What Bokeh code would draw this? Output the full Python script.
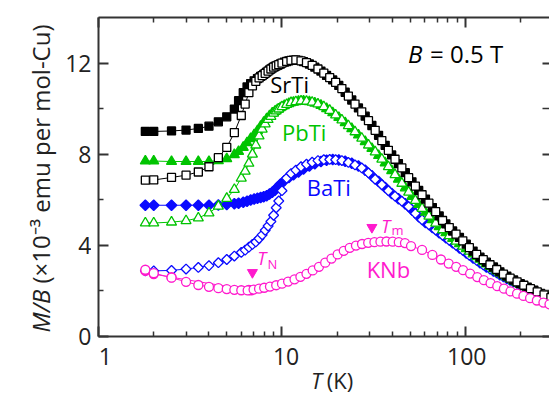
import math
from bokeh.plotting import figure
from bokeh.layouts import column, row
from bokeh.models import LogAxis, LinearAxis, FixedTicker, Label, Range1d
from bokeh.embed import file_html
from bokeh.resources import INLINE

# ---------------- data ----------------
# temperature grid of the open-symbol curves, K
t_open = [1.8, 2.0, 2.5, 3.0, 3.5, 4.0, 4.5, 5.0, 5.5,
          6.0, 6.3, 6.6, 6.9, 7.2, 7.5, 7.8, 8.1, 8.4, 8.7, 9.0, 9.3, 9.6,
          10.0, 10.6, 11.2, 11.9, 12.7, 13.6, 14.6, 15.7, 16.9, 18.2,
          19.6, 21.2, 23.0, 25.0, 27.2, 29.6, 32.2, 35.0, 38.0, 41.3,
          45.0, 49.0, 53.3, 58.0, 63.2, 68.8, 75.0, 81.6, 88.8, 96.7,
          105, 115, 125, 136, 148, 161, 175, 191, 208, 226,
          246, 268, 292]
srti_open = [6.86, 6.87, 6.98, 7.08, 7.22, 7.45, 7.85, 8.30, 8.95,
             9.70, 10.20, 10.70, 11.00, 11.20, 11.35, 11.45, 11.55, 11.65, 11.74, 11.82, 11.88, 11.93,
             12.00, 12.07, 12.12, 12.14, 12.10, 12.02, 11.90, 11.74, 11.56, 11.36,
             11.15, 10.88, 10.55, 10.20, 9.86, 9.47, 9.05, 8.60, 8.17, 7.78,
             7.40, 6.97, 6.60, 6.22, 5.85, 5.48, 5.09, 4.78, 4.49, 4.20,
             3.90, 3.60, 3.37, 3.15, 2.94, 2.74, 2.56, 2.40, 2.25, 2.10,
             1.96, 1.83, 1.71]
pbti_open = [4.98, 4.98, 5.02, 5.08, 5.20, 5.42, 5.72, 6.06, 6.45,
             6.95, 7.25, 7.60, 8.00, 8.40, 8.80, 9.10, 9.33, 9.52, 9.66, 9.80, 9.90, 9.98,
             10.08, 10.18, 10.26, 10.30, 10.33, 10.32, 10.28, 10.20, 10.08, 9.92,
             9.72, 9.50, 9.25, 8.98, 8.70, 8.40, 8.10, 7.78, 7.45, 7.10,
             6.72, 6.33, 5.97, 5.62, 5.28, 4.97, 4.68, 4.42, 4.18, 3.96,
             3.74, 3.50, 3.28, 3.07, 2.88, 2.70, 2.52, 2.36, 2.21, 2.07,
             1.93, 1.80, 1.68]
bati_open = [2.88, 2.88, 2.90, 2.96, 3.03, 3.11, 3.24, 3.38, 3.53,
             3.69, 3.79, 3.92, 4.04, 4.15, 4.30, 4.46, 4.66, 4.85, 5.05, 5.32, 5.65, 5.95,
             6.40, 6.95, 7.15, 7.30, 7.45, 7.56, 7.65, 7.72, 7.76, 7.77,
             7.76, 7.72, 7.64, 7.53, 7.40, 7.18, 6.90, 6.66, 6.40, 6.16,
             5.94, 5.70, 5.40, 5.12, 4.90, 4.67, 4.44, 4.22, 4.00, 3.78,
             3.56, 3.34, 3.14, 2.96, 2.79, 2.62, 2.47, 2.33, 2.19, 2.06,
             1.93, 1.80, 1.65]

# temperature grid of the filled-symbol curves, K
t_filled = [1.8, 2.0, 2.5, 3.0, 3.5, 4.0, 4.5, 5.0, 5.5,
            5.8, 6.15, 6.45, 6.75, 7.05, 7.35, 7.65, 7.95, 8.25, 8.55, 8.85, 9.15, 9.45, 9.8,
            10.3, 10.9, 11.55, 12.3, 13.1, 14.1, 15.1, 16.3, 17.5, 18.9,
            20.4, 22.1, 24.0, 26.1, 28.4, 30.9, 33.6, 36.5, 39.6, 43.1,
            47.0, 51.1, 55.6, 60.5, 66.0, 71.9, 78.2, 85.1, 92.7, 101,
            110, 120, 130, 142, 154, 168, 183, 199, 217, 236,
            257, 280]
srti_filled = [9.00, 9.00, 9.02, 9.06, 9.13, 9.23, 9.42, 9.64, 9.98,
               10.35, 10.70, 10.95, 11.10, 11.22, 11.32, 11.42, 11.50, 11.60, 11.70, 11.78, 11.85, 11.90, 11.96,
               12.04, 12.10, 12.13, 12.12, 12.06, 11.96, 11.82, 11.65, 11.46, 11.26,
               11.02, 10.72, 10.38, 10.03, 9.67, 9.26, 8.83, 8.39, 7.97, 7.59,
               7.19, 6.79, 6.41, 6.03, 5.66, 5.29, 4.94, 4.63, 4.35, 4.05,
               3.75, 3.48, 3.26, 3.05, 2.84, 2.65, 2.48, 2.32, 2.17, 2.03,
               1.89, 1.77]
pbti_filled = [7.70, 7.70, 7.68, 7.68, 7.68, 7.68, 7.72, 7.80, 7.98,
               8.12, 8.30, 8.50, 8.68, 8.85, 9.03, 9.22, 9.40, 9.55, 9.68, 9.80, 9.88, 9.96, 10.04,
               10.13, 10.22, 10.28, 10.32, 10.33, 10.30, 10.24, 10.14, 10.00, 9.82,
               9.61, 9.38, 9.12, 8.84, 8.55, 8.25, 7.94, 7.62, 7.28, 6.90,
               6.52, 6.15, 5.80, 5.45, 5.12, 4.82, 4.55, 4.30, 4.07, 3.85,
               3.62, 3.39, 3.18, 2.97, 2.79, 2.61, 2.44, 2.28, 2.14, 2.00,
               1.86, 1.74]
bati_filled = [5.76, 5.76, 5.76, 5.76, 5.76, 5.76, 5.77, 5.79, 5.83,
               5.85, 5.89, 5.94, 5.99, 6.03, 6.07, 6.10, 6.13, 6.18, 6.25, 6.33, 6.42, 6.55, 6.68,
               6.84, 6.98, 7.10, 7.22, 7.35, 7.48, 7.58, 7.68, 7.74, 7.77,
               7.75, 7.69, 7.60, 7.48, 7.30, 7.05, 6.80, 6.54, 6.28, 6.05,
               5.82, 5.55, 5.26, 5.00, 4.78, 4.55, 4.33, 4.11, 3.89, 3.67,
               3.45, 3.24, 3.05, 2.87, 2.71, 2.55, 2.40, 2.26, 2.12, 1.99,
               1.86, 1.72]

# KNb
t_knb = [1.8, 2.0, 2.5, 3.0, 3.5, 4.0, 4.5, 5.0, 5.5, 6.0, 6.5,
         7.0, 7.5, 8.0, 8.6, 9.3, 10.0, 10.8, 11.7, 12.6, 13.6,
         14.7, 15.9, 17.2, 18.6, 20.1, 21.7, 23.4, 25.3, 27.3, 29.5,
         31.9, 34.4, 37.1, 40.1, 43.3, 46.8, 50.5, 58.0, 66.0, 73.5,
         81.0, 89.0, 97.0, 106, 116, 126, 137, 149, 162, 176,
         191, 207, 225, 245, 266, 287]
knb_open = [2.93, 2.78, 2.58, 2.40, 2.26, 2.18, 2.12, 2.08, 2.05, 2.03, 2.02,
            2.06, 2.10, 2.14, 2.19, 2.25, 2.32, 2.41, 2.51, 2.62, 2.75,
            2.90, 3.06, 3.24, 3.42, 3.60, 3.76, 3.89, 3.99, 4.06, 4.11,
            4.14, 4.16, 4.17, 4.16, 4.14, 4.10, 3.97, 3.80, 3.58, 3.38,
            3.20, 3.06, 2.91, 2.76, 2.61, 2.47, 2.34, 2.21, 2.10, 1.98,
            1.88, 1.78, 1.68, 1.58, 1.49, 1.41]
t_knb_filled = [1.8, 2.0, 2.5, 6.6, 6.8]
knb_filled = [2.88, 2.74, 2.60, 2.04, 2.03]

# transition markers (T_N, T_m)
arrow_t = [6.9, 30.9]
arrow_m = [2.81, 4.79]

x_major = [1, 10, 100]
x_minor = [2, 3, 4, 5, 6, 7, 8, 9, 20, 30, 40, 50, 60, 70, 80, 90, 200, 300]
y_major = [0, 4, 8, 12]
y_minor = [2, 6, 10]

# ---------------- styling / layout ----------------
FONT = "Open Sans"
AX = "#333333"
TXT = "#222222"
BLACK = "#000000"
GREEN = "#00c400"
BLUE = "#0a0aff"
MAGENTA = "#ff1acd"

X_RANGE = (1, 287)
Y_RANGE = (0, 14)
LEFT_W = 91          # width of the left strip (y title + y tick labels)
FRAME_LEFT = 98      # frame left edge in page pixels
FRAME_TOP = 17
FRAME_BOTTOM = 336
MAIN_H = 340
TOTAL_W, TOTAL_H = 549, 395

frame_w = TOTAL_W - FRAME_LEFT
frame_h = FRAME_BOTTOM - FRAME_TOP
px_per_decade = frame_w / math.log10(X_RANGE[1] / X_RANGE[0])
px_per_unit = frame_h / (Y_RANGE[1] - Y_RANGE[0])


def y_at(py):
    """value on the main y scale at page pixel row py"""
    return (FRAME_BOTTOM - py) / px_per_unit


# ---------------- main plot ----------------
p = figure(width=TOTAL_W - LEFT_W, height=MAIN_H, x_axis_type="log",
           x_range=Range1d(*X_RANGE), y_range=Range1d(*Y_RANGE),
           output_backend="svg", toolbar_location=None,
           min_border_left=FRAME_LEFT - LEFT_W, min_border_right=0,
           min_border_top=FRAME_TOP, min_border_bottom=MAIN_H - FRAME_BOTTOM)
p.grid.visible = False
p.outline_line_color = None
p.background_fill_color = "white"
p.border_fill_color = "white"


def style_axis(ax, ticks, minors, line=True, tin=10, tmin=5):
    ax.ticker = FixedTicker(ticks=ticks, minor_ticks=minors)
    ax.axis_line_color = AX if line else None
    ax.axis_line_width = 2
    ax.major_tick_line_color = AX
    ax.major_tick_line_width = 2
    ax.minor_tick_line_color = AX
    ax.minor_tick_line_width = 1.5
    ax.major_tick_in = tin
    ax.major_tick_out = 0
    ax.minor_tick_in = tmin
    ax.minor_tick_out = 0
    # tick numbers are drawn as labels in the side strips
    ax.major_label_text_font = FONT
    ax.major_label_text_font_size = "1px"
    ax.major_label_text_alpha = 0
    ax.major_label_standoff = 0


style_axis(p.xaxis[0], x_major, x_minor)
style_axis(p.yaxis[0], y_major, y_minor)

top = LogAxis()
style_axis(top, x_major, x_minor)
p.add_layout(top, "above")

right = LinearAxis()
style_axis(right, y_major, y_minor, line=False, tin=7, tmin=7)
p.add_layout(right, "right")


def series(t, m, marker, color, filled, size, angle=0.0):
    p.line(t, m, line_color=color, line_width=1)
    p.scatter(t, m, marker=marker, size=size, angle=angle,
              fill_color=color if filled else "white",
              line_color=color, line_width=1.3)


D = math.pi / 4
series(t_filled, bati_filled, "square", BLUE, True, 7.5, D)
series(t_open, bati_open, "square", BLUE, False, 7.0, D)
series(t_filled, pbti_filled, "triangle", GREEN, True, 10)
series(t_open, pbti_open, "triangle", GREEN, False, 10)
series(t_filled, srti_filled, "square", BLACK, True, 8)
series(t_open, srti_open, "square", BLACK, False, 8)
series(t_knb_filled, knb_filled, "circle", MAGENTA, True, 9)
series(t_knb, knb_open, "circle", MAGENTA, False, 9)

p.scatter(arrow_t, arrow_m, marker="inverted_triangle", size=10,
          fill_color=MAGENTA, line_color=MAGENTA)


def label(fig, x, y, text, color=BLACK, size="22px", style="normal",
          align="center", angle=0.0):
    fig.add_layout(Label(x=x, y=y, text=text, text_font=FONT,
                         text_font_size=size, text_font_style=style,
                         text_color=color, text_align=align,
                         text_baseline="middle", angle=angle))


label(p, 11.0, 11.08, "SrTi", BLACK)
label(p, 13.2, 8.99, "PbTi", GREEN)
label(p, 18.0, 6.57, "BaTi", BLUE)
label(p, 38.0, 2.95, "KNb", MAGENTA)

label(p, 58.3, 12.44, "B", BLACK, "24px", "italic", "right")
label(p, 64.1, 12.44, "= 0.5 T", BLACK, "24px", "normal", "left")

label(p, 8.2, 3.43, "T", MAGENTA, "18px", "italic", "right")
label(p, 8.35, 3.16, "N", MAGENTA, "13px", "normal", "left")
label(p, 38.9, 4.84, "T", MAGENTA, "18px", "italic", "right")
label(p, 39.5, 4.66, "m", MAGENTA, "13px", "normal", "left")

# ---------------- left strip: y tick numbers + y-axis title ----------------
left = figure(width=LEFT_W, height=TOTAL_H, x_range=Range1d(0, LEFT_W),
              y_range=Range1d(y_at(TOTAL_H), y_at(0)),
              output_backend="svg", toolbar_location=None,
              x_axis_location=None, y_axis_location=None, min_border=0)
left.outline_line_color = None
left.grid.visible = False
for v in y_major:
    label(left, LEFT_W, v, f"{v:g}", TXT, "23px", "normal", "right")
A = math.pi / 2
label(left, 40, y_at(289), "M/B", TXT, "24px", "italic", "right", A)
label(left, 40, y_at(283), "(\u00d710\u207b\u00b3 emu per mol-Cu)", TXT, "24px", "normal", "left", A)

# ---------------- bottom strip: x tick numbers + x-axis title ----------------
x_left = X_RANGE[0] * 10 ** (-(FRAME_LEFT - LEFT_W) / px_per_decade)
xlab = figure(width=TOTAL_W - LEFT_W, height=TOTAL_H - MAIN_H, x_axis_type="log",
              x_range=Range1d(x_left, X_RANGE[1]),
              y_range=Range1d(y_at(TOTAL_H), y_at(MAIN_H)),
              output_backend="svg", toolbar_location=None,
              x_axis_location=None, y_axis_location=None, min_border=0)
xlab.outline_line_color = None
xlab.grid.visible = False
for v in x_major:
    label(xlab, v, y_at(355.5), f"{v:g}", TXT, "23px", "normal", "center")
label(xlab, 15.8, y_at(379.5), "T", TXT, "22px", "italic", "right")
label(xlab, 16.8, y_at(379.5), "(K)", TXT, "22px", "normal", "left")

layout = row(left, column(p, xlab))

open("out.html", "w").write(file_html(layout, INLINE))
